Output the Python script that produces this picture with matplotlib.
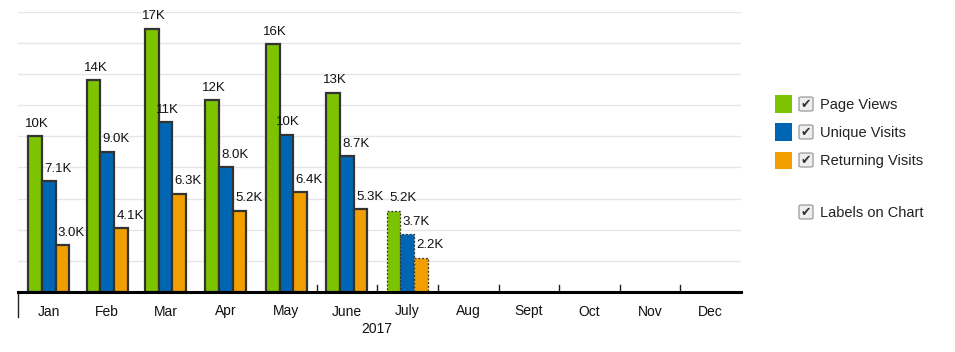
import datetime as dt

import matplotlib
matplotlib.use("Agg")
import matplotlib.dates as mdates
import matplotlib.pyplot as plt
from matplotlib.patches import FancyBboxPatch, Rectangle

plt.rcParams["font.family"] = ["Liberation Sans", "DejaVu Sans"]

# ── Data ─────────────────────────────────────────────────────────────────────
months = ["Jan", "Feb", "Mar", "Apr", "May", "June", "July",
          "Aug", "Sept", "Oct", "Nov", "Dec"]
year_label = "2017"
series_names = ["Page Views", "Unique Visits", "Returning Visits"]
page_views = [10000, 13600, 16900, 12300, 15900, 12800, 5200]
unique_visits = [7100, 9000, 10900, 8000, 10100, 8700, 3700]
returning_visits = [3000, 4100, 6300, 5200, 6400, 5300, 2200]
partial_month = 6          # July is incomplete -> dashed outline
colors = ["#7dc300", "#0066b3", "#f09e00"]

series = [page_views, unique_visits, returning_visits]


def fmt(v):
    return f"{v / 1000:.0f}K" if v >= 10000 else f"{v / 1000:.1f}K"


# ── Figure ───────────────────────────────────────────────────────────────────
fig = plt.figure(figsize=(9.55, 3.52), dpi=100)
ax = fig.add_axes([18 / 955, 60 / 352, 723 / 955, 280.5 / 352])

start = dt.date(2017, 1, 1)
month_starts = [dt.date(2017, m, 1) for m in range(1, 13)] + [dt.date(2018, 1, 1)]
mids = [mdates.date2num(month_starts[i]) +
        (month_starts[i + 1] - month_starts[i]).days / 2 for i in range(12)]

bw = 6.9  # bar width in days
for s, (vals, col) in enumerate(zip(series, colors)):
    for i, v in enumerate(vals):
        x = mids[i] + (s - 1) * bw
        partial = i == partial_month
        ax.bar(x, v, width=bw, color=col, zorder=3,
               edgecolor="#333333", linewidth=0.9 if partial else 1.6,
               linestyle=(0, (1.5, 1.5)) if partial else "-")
        is_int = v >= 10000
        ax.text(x - bw / 2 + (-1.6 if is_int else 1.2), v + 420, fmt(v),
                ha="left", va="bottom", fontsize=9.5, color="#111111", zorder=4)

ax.set_xlim(mdates.date2num(start), mdates.date2num(dt.date(2018, 1, 1)))
ax.set_ylim(0, 18000)
ax.set_yticks(range(0, 18001, 2000))
ax.yaxis.grid(True, color="#e6e6e6", linewidth=1, zorder=0)
ax.tick_params(axis="y", length=0, labelleft=False)

ax.set_xticks(mids)
ax.set_xticklabels(months, fontsize=10, color="#111111")
ax.tick_params(axis="x", length=0, pad=9)

# small inward ticks at month boundaries (only where visible in the original)
for d in month_starts[5:12]:
    ax.plot([mdates.date2num(d)] * 2, [0, 420], color="#222222",
            linewidth=1, zorder=2)

for sp in ["top", "right", "left"]:
    ax.spines[sp].set_visible(False)
ax.spines["bottom"].set_linewidth(2.2)
ax.spines["bottom"].set_zorder(5)

ax.plot([0, 0], [0, -25 / 280.5], transform=ax.transAxes, color="#222222",
        linewidth=1, clip_on=False)
ax.text(mdates.date2num(dt.date(2017, 7, 1)), -37 / 280.5 * 18000, year_label,
        transform=ax.transData, ha="center", va="center", fontsize=10,
        color="#111111", clip_on=False)


# ── Legend with checkboxes ───────────────────────────────────────────────────
def px(x, y):
    return x / 955, 1 - y / 352


def checkbox(x, y):
    fx, fy = px(x, y + 14)
    fig.patches.append(FancyBboxPatch(
        (fx, fy), 14 / 955, 14 / 352, boxstyle="round,pad=0,rounding_size=0.003",
        transform=fig.transFigure, facecolor="#eeeeee", edgecolor="#9a9a9a",
        linewidth=0.9))
    tx, ty = px(x + 7.2, y + 7.5)
    fig.text(tx, ty, "\u2714", ha="center", va="center", fontsize=9,
             color="#333333", family=["DejaVu Sans"])


legend_rows = [104, 132, 160]
for name, col, yc in zip(series_names, colors, legend_rows):
    lx, ly = px(775, yc + 8.5)
    fig.patches.append(Rectangle((lx, ly), 17 / 955, 17 / 352,
                                 transform=fig.transFigure, facecolor=col,
                                 edgecolor="none"))
    checkbox(799, yc - 7)
    tx, ty = px(820, yc + 1)
    fig.text(tx, ty, name, ha="left", va="center", fontsize=10.5,
             color="#222222")

checkbox(799, 205)
tx, ty = px(820, 213)
fig.text(tx, ty, "Labels on Chart", ha="left", va="center", fontsize=10.5,
         color="#222222")

fig.savefig("out.png", dpi=100, facecolor="white")
